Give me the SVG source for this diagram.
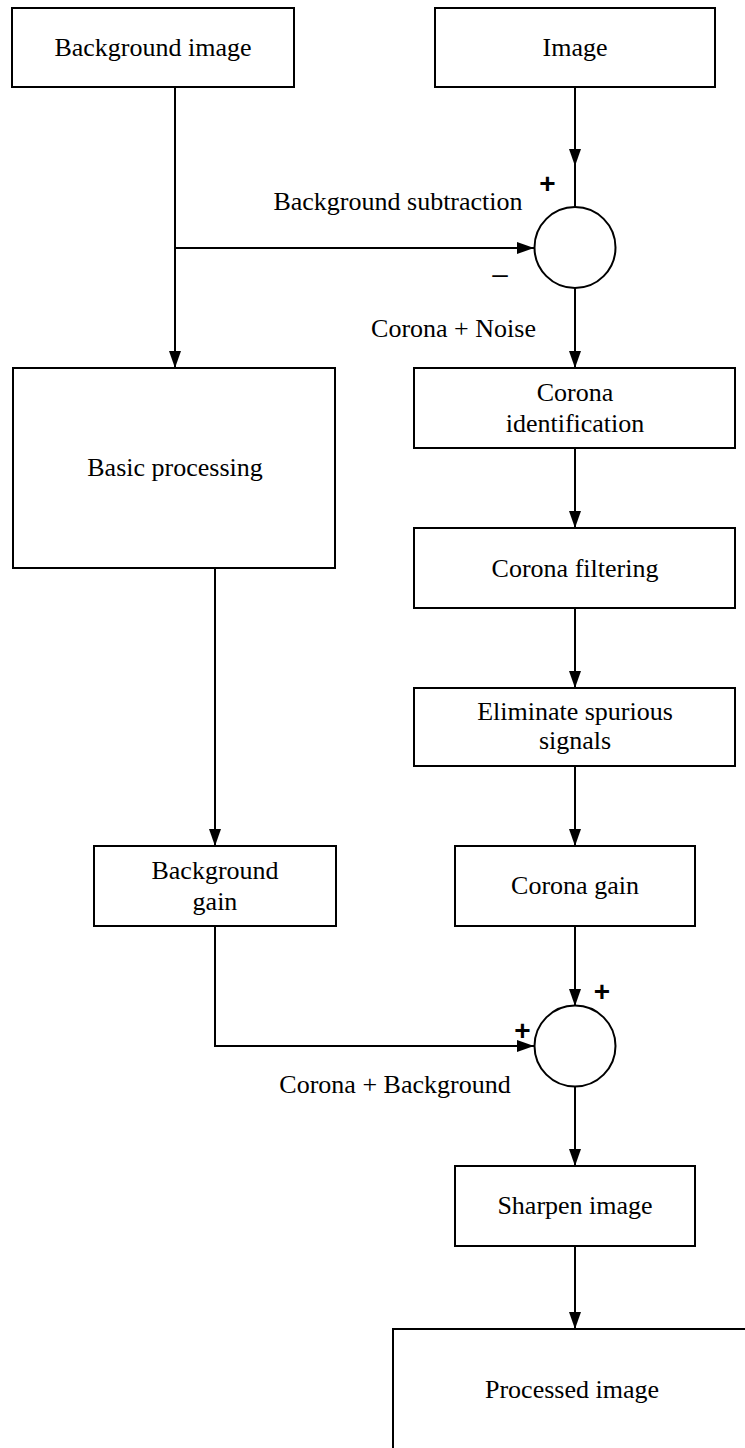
<svg xmlns="http://www.w3.org/2000/svg" width="745" height="1448" viewBox="0 0 745 1448">
<style>
.box{fill:#fff;stroke:#000;stroke-width:2}
.sum{fill:#fff;stroke:#000;stroke-width:2}
.t{font-family:"Liberation Serif","Times New Roman",serif;font-size:26px;fill:#000;text-anchor:middle}
.sign{font-family:"Liberation Sans",Arial,sans-serif;font-size:28px;font-weight:bold;fill:#000;text-anchor:middle}
.minus{font-family:"Liberation Sans",Arial,sans-serif;font-size:28px;fill:#000;text-anchor:middle}
.c{fill:none;stroke:#000;stroke-width:2}
</style>
<defs>
<marker id="ah" markerUnits="userSpaceOnUse" markerWidth="18" markerHeight="13" refX="17" refY="6" orient="auto">
<path d="M0,0 L17,6 L0,12 z" fill="#000"/>
</marker>
</defs>
<rect width="745" height="1448" fill="#fff"/>
<g id="connectors">
<path class="c" d="M175 87 V368" marker-end="url(#ah)"/>
<path class="c" d="M175 248 H534" marker-end="url(#ah)"/>
<path class="c" d="M575 87 V166" marker-end="url(#ah)"/>
<path class="c" d="M575 166 V207"/>
<path class="c" d="M575 288 V368" marker-end="url(#ah)"/>
<path class="c" d="M575 448 V528" marker-end="url(#ah)"/>
<path class="c" d="M575 608 V688" marker-end="url(#ah)"/>
<path class="c" d="M575 766 V846" marker-end="url(#ah)"/>
<path class="c" d="M215 568 V846" marker-end="url(#ah)"/>
<path class="c" d="M575 926 V1006" marker-end="url(#ah)"/>
<path class="c" d="M215 926 V1046 H534" marker-end="url(#ah)"/>
<path class="c" d="M575 1086 V1166" marker-end="url(#ah)"/>
<path class="c" d="M575 1246 V1329" marker-end="url(#ah)"/>
</g>
<g id="n_bgimage">
<rect class="box" x="12" y="8" width="282" height="79"/>
<text class="t" x="153" y="56">Background image</text>
</g>
<g id="n_image">
<rect class="box" x="435" y="8" width="280" height="79"/>
<text class="t" x="575" y="56">Image</text>
</g>
<g id="n_subtract">
<circle class="sum" cx="575" cy="247.5" r="40.5"/>
<text class="sign" x="547.5" y="193">+</text>
<text class="minus" x="500" y="283">–</text>
<text class="t" x="398" y="210">Background subtraction</text>
<text class="t" x="453.5" y="337">Corona + Noise</text>
</g>
<g id="n_basic">
<rect class="box" x="13" y="368" width="322" height="200"/>
<text class="t" x="175" y="476">Basic processing</text>
</g>
<g id="n_cid">
<rect class="box" x="414" y="368" width="321" height="80"/>
<text class="t" x="575" y="401">Corona</text>
<text class="t" x="575" y="432">identification</text>
</g>
<g id="n_cfilt">
<rect class="box" x="414" y="528" width="321" height="80"/>
<text class="t" x="575" y="577">Corona filtering</text>
</g>
<g id="n_elim">
<rect class="box" x="414" y="688" width="321" height="78"/>
<text class="t" x="575" y="720">Eliminate spurious</text>
<text class="t" x="575" y="749">signals</text>
</g>
<g id="n_bggain">
<rect class="box" x="94" y="846" width="242" height="80"/>
<text class="t" x="215" y="879">Background</text>
<text class="t" x="215" y="910">gain</text>
</g>
<g id="n_cgain">
<rect class="box" x="455" y="846" width="240" height="80"/>
<text class="t" x="575" y="894">Corona gain</text>
</g>
<g id="n_add">
<circle class="sum" cx="575" cy="1046" r="40.5"/>
<text class="sign" x="602" y="1001">+</text>
<text class="sign" x="522.5" y="1040">+</text>
<text class="t" x="395" y="1093">Corona + Background</text>
</g>
<g id="n_sharpen">
<rect class="box" x="455" y="1166" width="240" height="80"/>
<text class="t" x="575" y="1214">Sharpen image</text>
</g>
<g id="n_processed">
<rect class="box" x="393" y="1329" width="362" height="140"/>
<text class="t" x="572" y="1398">Processed image</text>
</g>
</svg>
